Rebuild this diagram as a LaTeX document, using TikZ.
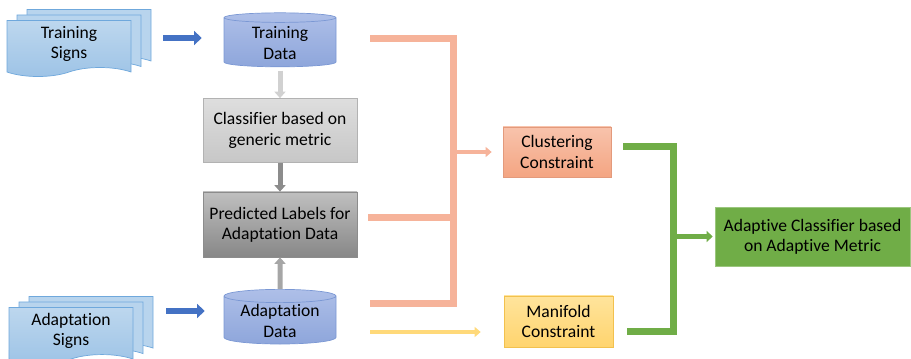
\documentclass[tikz,border=0pt]{standalone}
\usepackage{fontspec}
\setmainfont{Carlito}[RawFeature=-liga, RawFeature=-calt, RawFeature=-clig]
\usetikzlibrary{positioning, shapes.geometric, shapes.symbols, shadows, arrows.meta, calc}

\definecolor{signtop}{HTML}{BDD7EE}
\definecolor{signbot}{HTML}{9DC3E6}
\definecolor{signedge}{HTML}{6FA8DC}
\definecolor{dbtop}{HTML}{AEBFE8}
\definecolor{dbbot}{HTML}{8EA6DB}
\definecolor{dbedge}{HTML}{7B98D4}
\definecolor{bluearr}{HTML}{4472C4}
\definecolor{peach}{HTML}{F6B39A}
\definecolor{peachtop}{HTML}{F8C3AC}
\definecolor{peachbot}{HTML}{F4A582}
\definecolor{peachedge}{HTML}{E39A7C}
\definecolor{yeltop}{HTML}{FFE49C}
\definecolor{yelbot}{HTML}{FFD46E}
\definecolor{yeledge}{HTML}{F2C14E}
\definecolor{yelline}{HTML}{FFD97A}
\definecolor{leaf}{HTML}{70AD47}

\begin{document}
\begin{tikzpicture}[font=\fontsize{10}{11.5}\selectfont,
    signs/.style={tape, tape bend top=none, tape bend height=0.18cm, draw=signedge,
        top color=signtop, bottom color=signbot, minimum width=2.48cm, minimum height=1.0cm,
        align=center, double copy shadow={shadow xshift=0.2cm, shadow yshift=0.11cm, fill=signtop!85!signbot, draw=signedge}},
    db/.style={cylinder, shape border rotate=90, aspect=0.16, draw=dbedge, inner sep=1pt,
        top color=dbtop, bottom color=dbbot, minimum width=2.24cm, minimum height=1.08cm, align=center},
    box/.style={rectangle, align=center, inner sep=2pt},
    bluearrow/.style={-{Triangle[length=0.15cm,width=0.28cm]}, line width=0.13cm, draw=bluearr},
    grayarrow/.style={-{Triangle[length=0.13cm,width=0.22cm]}, line width=0.1cm},
    orangeline/.style={line width=0.14cm, draw=peach},
    greenline/.style={line width=0.14cm, draw=leaf}
]
\useasboundingbox (0,0) rectangle (18.22,7.16);

% inputs
\node[signs] (tsign) at (1.38,6.28) {Training\\Signs};
\node[signs] (asign) at (1.42,0.54) {Adaptation\\Signs};
\node[db] (tdata) at (5.6,6.3) {Training\\Data};
\node[db] (adata) at (5.6,0.74) {Adaptation\\Data};

% middle column
\node[box, draw=black!30, top color=black!13, bottom color=black!22,
    minimum width=3.08cm, minimum height=1.28cm] (clf) at (5.6,4.55) {Classifier based on\\generic metric};
\node[box, draw=black!45, top color=black!25, bottom color=black!47,
    minimum width=3.08cm, minimum height=1.3cm] (pred) at (5.6,2.67) {Predicted Labels for\\Adaptation Data};

% constraints
\node[box, draw=peachedge, top color=peachtop, bottom color=peachbot,
    minimum width=2.16cm, minimum height=1.0cm] (clus) at (11.14,4.12) {Clustering\\Constraint};
\node[box, draw=yeledge, top color=yeltop, bottom color=yelbot,
    minimum width=2.18cm, minimum height=1.02cm] (mani) at (11.17,0.73) {Manifold\\Constraint};
\node[box, draw=leaf!70!white, fill=leaf,
    minimum width=3.9cm, minimum height=1.18cm] (adap) at (16.25,2.43) {Adaptive Classifier based\\on Adaptive Metric};

% arrows on the left
\coordinate (b1) at ($(tdata.west)+(0,0.1)$);
\coordinate (b2) at ($(adata.west)+(0,0.2)$);
\draw[bluearrow, shorten <=0.64cm, shorten >=0.44cm] (tsign.east |- b1) -- (b1);
\draw[bluearrow, shorten <=0.66cm, shorten >=0.38cm] (asign.east |- b2) -- (b2);
\draw[grayarrow, draw=black!18, shorten <=2pt] (tdata.south) -- (clf.north);
\draw[grayarrow, draw=black!45] (clf.south) -- (pred.north);
\draw[grayarrow, draw=black!35] (adata.north) -- (pred.south);

% orange bracket
\coordinate (bus) at (9.06,0);
\coordinate (o1) at ($(tdata.east)+(0.68,0.08)$);
\coordinate (o2) at ($(pred.east)+(0.22,0.13)$);
\coordinate (o3) at ($(adata.east)+(0.68,0.34)$);
\draw[orangeline] (o1) -- (o1 -| bus) |- (o3);
\draw[orangeline] (o2) -- (o2 -| bus);
\draw[-{Triangle[length=0.12cm,width=0.2cm]}, line width=0.08cm, draw=peach, shorten >=0.22cm] (bus |- clus) -- (clus.west);

% yellow arrow
\coordinate (o4) at ($(adata.east)+(0.68,-0.22)$);
\draw[-{Triangle[length=0.12cm,width=0.2cm]}, line width=0.09cm, draw=yelline, shorten >=0.46cm] (o4) -- (o4 -| mani.west);

% green bracket
\coordinate (gbus) at (13.46,0);
\coordinate (g1) at ($(clus.east)+(0.24,0.1)$);
\coordinate (g2) at ($(mani.east)+(0.28,-0.19)$);
\draw[greenline] (g1) -- (g1 -| gbus) |- (g2);
\draw[-{Triangle[length=0.12cm,width=0.22cm]}, line width=0.1cm, draw=leaf, shorten >=0.04cm] (gbus |- adap) -- (adap.west);
\end{tikzpicture}
\end{document}
